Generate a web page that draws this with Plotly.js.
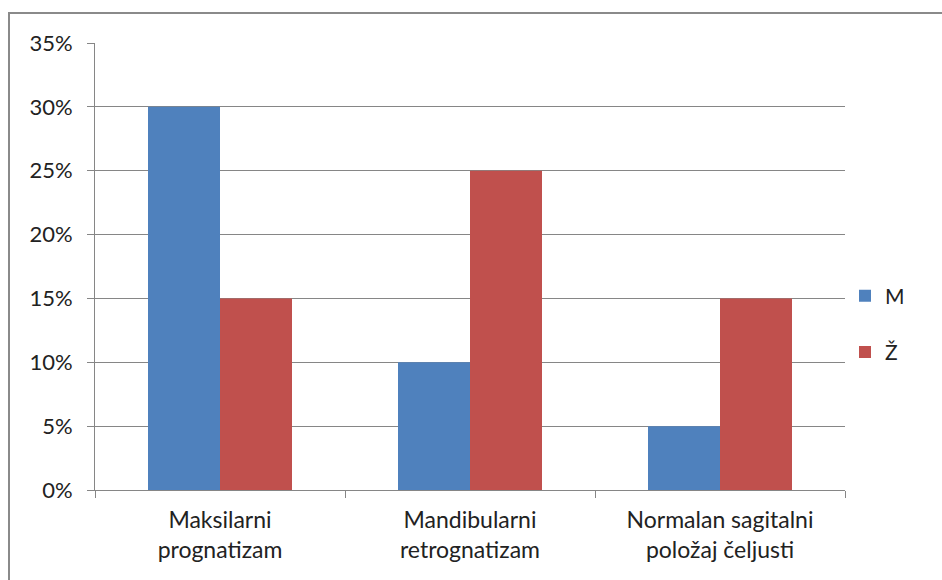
<!DOCTYPE html>
<html><head><meta charset="utf-8">
<script src="https://cdn.plot.ly/plotly-3.0.1.min.js"></script>
<style>
html,body{margin:0;padding:0;background:#fff;}
#wrap{position:relative;width:942px;height:580px;overflow:hidden;}
#chart{width:942px;height:580px;}
#frame{position:absolute;left:8px;top:12px;width:960px;height:600px;border-top:2px solid #8a8a8a;border-left:2px solid #8a8a8a;pointer-events:none;}
</style></head>
<body>
<div id="wrap"><div id="chart"></div><div id="frame"></div></div>
<script>
const categories = ["Maksilarni<br>prognatizam", "Mandibularni<br>retrognatizam", "Normalan sagitalni<br>položaj čeljusti"];
const seriesNames = ["M", "Ž"];
const valuesM = [0.30, 0.10, 0.05];
const valuesZ = [0.15, 0.25, 0.15];
const yTickVals = [0, 0.05, 0.10, 0.15, 0.20, 0.25, 0.30, 0.35];
const yTickText = ["0%", "5%", "10%", "15%", "20%", "25%", "30%", "35%"];

const font = "Lato, 'Liberation Sans', sans-serif";
const traces = [
  {type: "bar", name: seriesNames[0], x: categories, y: valuesM, marker: {color: "#4F81BD"}, legendgroup: "a"},
  {type: "bar", name: seriesNames[1], x: categories, y: valuesZ, marker: {color: "#C0504D"}, legendgroup: "b"}
];
const layout = {
  width: 942, height: 580,
  margin: {l: 95, r: 97, t: 43, b: 90},
  paper_bgcolor: "#ffffff", plot_bgcolor: "#ffffff",
  font: {family: font, size: 22, color: "#222222"},
  barmode: "group", bargap: 0.424, bargroupgap: 0,
  showlegend: true,
  legend: {x: 1.0, xanchor: "left", y: 0.371, yanchor: "middle", tracegroupgap: 26,
           font: {family: font, size: 21, color: "#222222"}, itemwidth: 30},
  xaxis: {type: "category", showline: true, linecolor: "#868686", linewidth: 1,
          ticks: "outside", tickson: "boundaries", ticklen: 7, tickcolor: "#868686",
          showgrid: false, ticklabelstandoff: 9, tickfont: {family: font, size: 23, color: "#222222"}},
  yaxis: {range: [0, 0.35], tickvals: yTickVals, ticktext: yTickText,
          showline: true, linecolor: "#868686", linewidth: 1,
          ticks: "outside", ticklen: 7, tickcolor: "#868686",
          showgrid: true, gridcolor: "#868686", gridwidth: 1, zeroline: false,
          ticklabelstandoff: 10, tickfont: {family: font, size: 22, color: "#222222"}}
};
Plotly.newPlot("chart", traces, layout, {displayModeBar: false, staticPlot: true});
</script>
</body></html>
